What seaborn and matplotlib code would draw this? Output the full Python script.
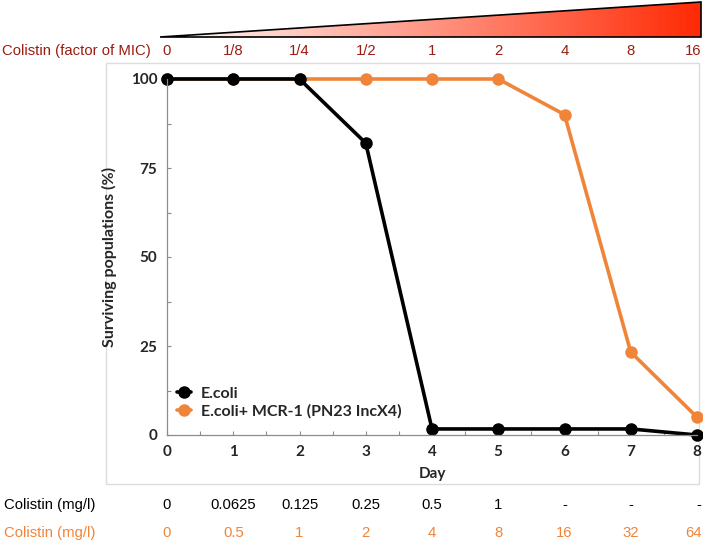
import numpy as np
import pandas as pd
import matplotlib
matplotlib.use("Agg")
import matplotlib.pyplot as plt
import seaborn as sns
from matplotlib.patches import Polygon, Rectangle
from matplotlib.colors import LinearSegmentedColormap
from matplotlib.ticker import MultipleLocator
import matplotlib.transforms as mtransforms

# data
days = [0, 1, 2, 3, 4, 5, 6, 7, 8]
ecoli = [100, 100, 100, 82, 1.7, 1.7, 1.7, 1.7, 0]
mcr1 = [100, 100, 100, 100, 100, 100, 90, 23.3, 5]
series_names = ["E.coli", "E.coli+ MCR-1 (PN23 IncX4)"]
mic_factor = ["0", "1/8", "1/4", "1/2", "1", "2", "4", "8", "16"]
mg_ecoli = ["0", "0.0625", "0.125", "0.25", "0.5", "1", "-", "-", "-"]
mg_mcr1 = ["0", "0.5", "1", "2", "4", "8", "16", "32", "64"]

black = "#000000"
orange = "#F0853A"
darkred = "#9B1C12"

df = pd.DataFrame({
    "Day": days * 2,
    "surv": ecoli + mcr1,
    "strain": [series_names[0]] * len(days) + [series_names[1]] * len(days),
})

sns.set_style("white")
plt.rcParams["font.family"] = ["Lato", "DejaVu Sans"]

W, H = 703, 543
fig = plt.figure(figsize=(W / 100, H / 100), dpi=100)

# overlay axes in pixel coordinates for decorations
deco = fig.add_axes([0, 0, 1, 1], zorder=0)
deco.set_xlim(0, W)
deco.set_ylim(H, 0)
deco.axis("off")
deco.add_patch(Rectangle((106, 63), 593, 421, fill=False, edgecolor="#dcdcdc", lw=1.0))

# gradient triangle
cmap = LinearSegmentedColormap.from_list("wr", ["#ffffff", "#ff2a05"])
grad = np.linspace(0, 1, 256).reshape(1, -1)
im = deco.imshow(grad, cmap=cmap, extent=[160, 701, 37, 2], aspect="auto", zorder=1)
tri = Polygon([[160, 37], [701, 37], [701, 2]], closed=True, facecolor="none",
              edgecolor="black", lw=1.2, zorder=2)
deco.add_patch(tri)
im.set_clip_path(tri)

ax = fig.add_axes([167 / W, 1 - 435 / H, 530 / W, 356 / H], zorder=2)
ax.patch.set_alpha(0)
sns.lineplot(data=df, x="Day", y="surv", hue="strain", hue_order=[series_names[1], series_names[0]],
             palette={series_names[0]: black, series_names[1]: orange},
             marker="o", markersize=9, markeredgewidth=0, linewidth=2.6, ax=ax, clip_on=False)

ax.set_xlim(0, 8)
ax.set_ylim(0, 100)
ax.xaxis.set_major_locator(MultipleLocator(1))
ax.xaxis.set_minor_locator(MultipleLocator(0.5))
ax.yaxis.set_major_locator(MultipleLocator(25))
ax.yaxis.set_minor_locator(MultipleLocator(12.5))
for s in ["top", "right"]:
    ax.spines[s].set_visible(False)
for s in ["left", "bottom"]:
    ax.spines[s].set_color("#8c8c8c")
    ax.spines[s].set_linewidth(0.9)
ax.tick_params(which="both", direction="in", color="#8c8c8c", length=3, width=0.8,
               left=True, bottom=True)
ax.tick_params(which="major", labelsize=11, pad=7)
for lab in ax.get_xticklabels() + ax.get_yticklabels():
    lab.set_fontweight("bold")
ax.set_xlabel("Day", fontsize=11, fontweight="bold", labelpad=6)
ax.set_ylabel("Surviving populations (%)", fontsize=11.5, fontweight="bold", labelpad=10)

handles, labels = ax.get_legend_handles_labels()
order = [labels.index(n) for n in series_names]
leg = ax.legend([handles[i] for i in order], [labels[i] for i in order], loc="lower left",
                bbox_to_anchor=(0.0, 0.02), frameon=False, handlelength=0.9,
                handletextpad=0.6, borderaxespad=0.2, labelspacing=0.2,
                prop={"weight": "bold", "size": 11.5})

# rows of text lined up with the days
tr = mtransforms.blended_transform_factory(ax.transData, fig.transFigure)
font = "Liberation Sans"
fs = 10.7
fig.text(151 / W, 1 - 51 / H, "Colistin (factor of MIC)", ha="right", va="center",
         color=darkred, fontsize=fs, family=font)
fig.text(95 / W, 1 - 505 / H, "Colistin (mg/l)", ha="right", va="center",
         color="black", fontsize=fs, family=font)
fig.text(95 / W, 1 - 533 / H, "Colistin (mg/l)", ha="right", va="center",
         color=orange, fontsize=fs, family=font)
for d, a, b, c in zip(days, mic_factor, mg_ecoli, mg_mcr1):
    ha = "right" if d == days[-1] else "center"
    dx = 0.07 if d == days[-1] else 0
    ax.text(d + dx, 1 - 51 / H, a, transform=tr, ha=ha, va="center",
            color=darkred, fontsize=fs, family=font)
    ax.text(d + dx, 1 - 505 / H, b, transform=tr, ha=ha, va="center",
            color="black", fontsize=fs, family=font)
    ax.text(d + dx, 1 - 533 / H, c, transform=tr, ha=ha, va="center",
            color=orange, fontsize=fs, family=font)

fig.savefig("out.png", dpi=100)
